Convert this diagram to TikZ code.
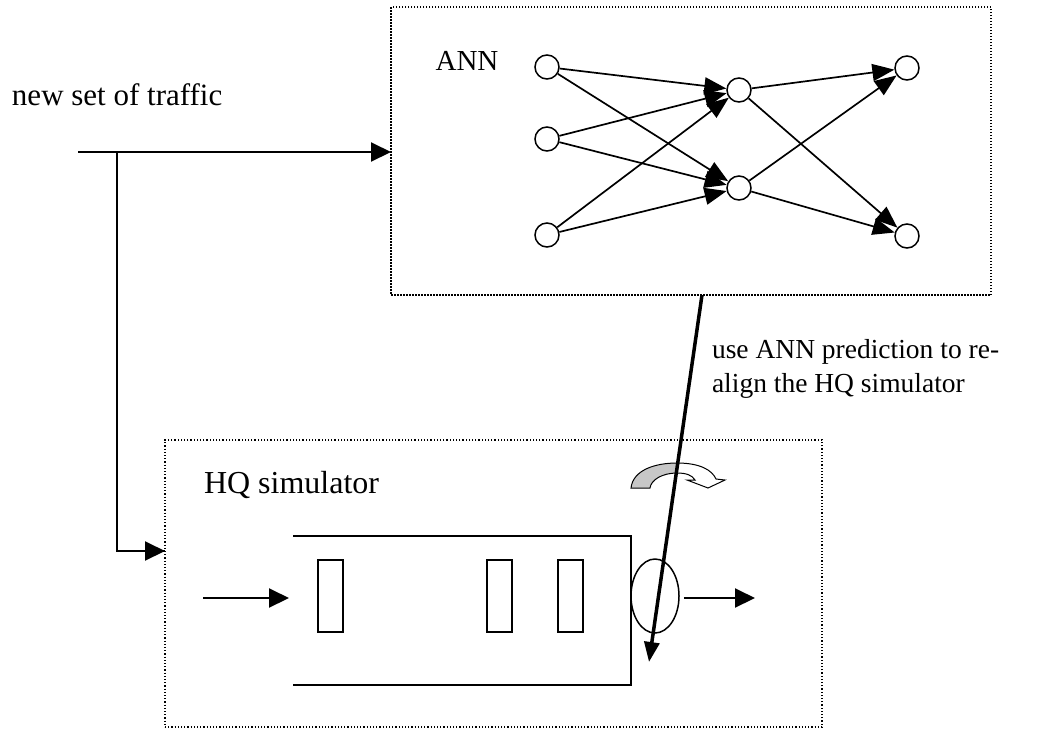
\documentclass[tikz,border=0pt]{standalone}
\usepackage{fontspec}
\setmainfont{Liberation Serif}
\usetikzlibrary{arrows.meta,shapes.geometric}
\begin{document}
\begin{tikzpicture}[x=1pt,y=-1pt,
  lbl/.style={inner sep=0pt, outer sep=0pt},
  neuron/.style={circle, draw, line width=1.5pt, minimum size=24pt, inner sep=0pt, fill=white},
  netarr/.style={line width=1.7pt, -{Triangle[length=22pt,width=17pt]}},
  arr/.style={line width=2pt, -{Triangle[length=20pt,width=19pt]}},
  plainline/.style={line width=2pt},
  thickarr/.style={line width=3.5pt, -{Triangle[length=20pt,width=15pt]}},
  annbox/.style={draw, dash pattern=on 1.5pt off 1.5pt, line width=1.5pt, inner sep=0pt, outer sep=0pt},
  hqbox/.style={draw, dash pattern=on 1.2pt off 2pt, line width=1.2pt, inner sep=0pt, outer sep=0pt},
  slot/.style={draw, line width=1.5pt, minimum width=25pt, minimum height=72pt, inner sep=0pt},
  server/.style={ellipse, draw, line width=1.5pt, minimum width=48pt, minimum height=74pt, inner sep=0pt}
]
\useasboundingbox (0,0) rectangle (1054,729);

% boxes
\node[annbox, minimum width=600pt, minimum height=288pt] (ann) at (691,151) {};
\node[hqbox, minimum width=657pt, minimum height=287pt] (hq) at (493.5,583.5) {};

% labels
\node[lbl, font=\fontsize{31}{36}\selectfont, anchor=base west] (traffic) at (12,105) {new set of traffic};
\node[lbl, font=\fontsize{29}{34}\selectfont, anchor=base] (annlbl) at (467,70) {ANN};
\node[lbl, font=\fontsize{32}{37}\selectfont, anchor=base west] (hqlbl) at (204,493) {HQ simulator};
\node[lbl, font=\fontsize{27.5}{34}\selectfont, anchor=base west] (pred1) at (712,358) {use ANN prediction to re-};
\node[lbl, font=\fontsize{27.5}{34}\selectfont, anchor=base west] (pred2) at (712,392) {align the HQ simulator};

% neural network
\node[neuron] (i1) at (547,67) {};
\node[neuron] (i2) at (547,139) {};
\node[neuron] (i3) at (547,235) {};
\node[neuron] (h1) at (739,90) {};
\node[neuron] (h2) at (739,188) {};
\node[neuron] (o1) at (907,68) {};
\node[neuron] (o2) at (907,236) {};
\foreach \a in {i1,i2,i3}{
  \foreach \b in {h1,h2}{
    \draw[netarr] (\a) -- (\b);
  }
}
\foreach \a in {h1,h2}{
  \foreach \b in {o1,o2}{
    \draw[netarr] (\a) -- (\b);
  }
}

% traffic input lines
\coordinate (tstart) at (78,152);
\coordinate (tjoin) at (117,152);
\coordinate (hqin) at (165,551);
\draw[arr] (tstart) -- (tstart -| ann.west);
\draw[plainline] (tjoin) |- (hqin -| hq.west);
\draw[arr] (tjoin |- hqin) -- (hqin -| hq.west);

% queue
\draw[plainline] (293,536) -- (631,536) -- (631,685) -- (293,685);
\node[slot] (r1) at (330.5,596) {};
\node[slot] (r2) at (499.5,596) {};
\node[slot] (r3) at (570.5,596) {};
\node[server] (srv) at (655,596) {};
\coordinate (qin) at (203,598);
\coordinate (qend) at (289,598);
\coordinate (qout) at (755,598);
\draw[arr] (qin) -- (qend);
\draw[arr] ([xshift=4pt]srv.east |- qout) -- (qout);

% curved re-align arrow
\draw[line width=1pt, fill=black!22]
  (631,488) .. controls (633,470) and (655,463) .. (677,463)
  -- (677,473) .. controls (662,473) and (651,480) .. (650,488) -- cycle;
\draw[line width=1pt, fill=white]
  (677,463) .. controls (700,463) and (712,470) .. (716,479)
  -- (725,480) -- (708,488) -- (687,480) -- (695,480)
  .. controls (692,475) and (686,473) .. (677,473) -- cycle;

% prediction arrow
\coordinate (pstart) at (702,295);
\coordinate (ptip) at (649,662);
\draw[thickarr] (pstart) -- (ptip);
\end{tikzpicture}
\end{document}
